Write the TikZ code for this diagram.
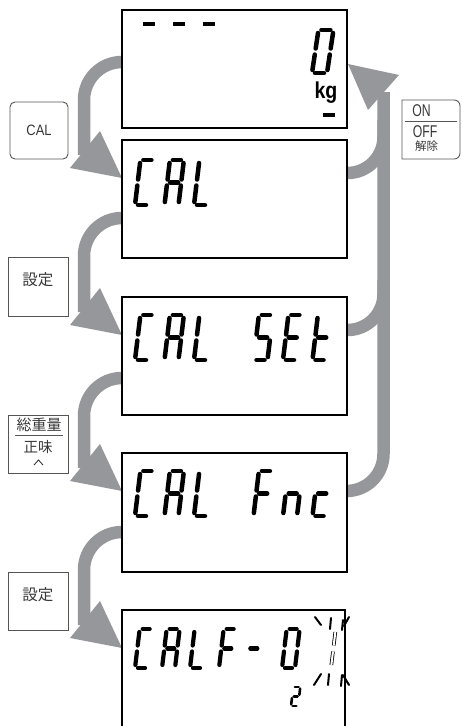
\documentclass[tikz,border=0pt]{standalone}
\usepackage{fontspec}
\setmainfont{Liberation Sans}
\newfontfamily\jp{Noto Sans CJK JP}
\usepackage{graphicx}
\definecolor{agray}{RGB}{150,151,154}
\definecolor{btnline}{RGB}{85,85,85}
\definecolor{btntext}{RGB}{55,55,55}
\def\SW{14}\def\SH{45}\def\SG{3}\def\SL{4.5}
\def\sega{\draw[segline] (\SG,\SH) -- ({\SW-\SG},\SH);}
\def\segb{\draw[segline] (\SW,{\SH-\SG}) -- (\SW,{\SH/2+\SG});}
\def\segc{\draw[segline] (\SW,{\SH/2-\SG}) -- (\SW,\SG);}
\def\segd{\draw[segline] (\SG,0) -- ({\SW-\SG},0);}
\def\sege{\draw[segline] (0,\SG) -- (0,{\SH/2-\SG});}
\def\segf{\draw[segline] (0,{\SH/2+\SG}) -- (0,{\SH-\SG});}
\def\segg{\draw[segline] (\SG,{\SH/2}) -- ({\SW-\SG},{\SH/2});}
\newcommand\dchar[4][0.12]{%
  \begin{scope}[shift={(#2,#3)}, yscale=-1, xslant=-#1]
    \foreach \s in {#4}{\csname seg\s\endcsname}
  \end{scope}}
\tikzset{
  band/.style={draw=agray, line width=12.5pt},
  headfill/.style={fill=agray},
  disp/.style={draw=black, line width=1.6pt},
  btnbox/.style={draw=btnline, line width=0.9pt},
  segline/.style={line width=\SL pt, line cap=round, black},
  btxt/.style={inner sep=0pt, text=btntext},
}
\begin{document}
\begin{tikzpicture}[x=1pt,y=-1pt]
\useasboundingbox (0,0) rectangle (461,726);
% ---------- left arrows ----------
\foreach \yb/\yt in {62/140, 218/297, 378/453, 532/610}{
  \draw[band, rounded corners=38pt] (122,\yb) -- (84,\yb) -- (84,\yt+15);
  \fill[headfill] (122,\yt+38) -- (70,\yt+28) -- (100,\yt-9) -- cycle;
}
% ---------- right return arrow ----------
\draw[band, rounded corners=37pt] (383.5,92) -- (383.5,491) -- (347,491);
\draw[band, rounded corners=36pt] (347,173) -- (383.5,173) -- (383.5,120);
\draw[band, rounded corners=36pt] (347,330) -- (383.5,330) -- (383.5,280);
\fill[headfill] (348,64) -- (399,75) -- (368,110) -- cycle;
% ---------- displays ----------
\draw[disp] (122,10) rectangle (347,128);
\draw[disp] (122,140) rectangle (347,258);
\draw[disp] (122,297) rectangle (347,415);
\draw[disp] (122,453) rectangle (347,572);
\draw[disp] (122,740) -- (122,610) -- (345,610) -- (345,740);
% display 1 content
\fill (143,22) rectangle (155,26);
\fill (173,22) rectangle (185,26);
\fill (203,22) rectangle (215,26);
\def\SW{15}\def\SH{43}
\dchar[0.15]{312}{73}{a,b,c,d,e,f}
\node[inner sep=0pt] (kg) at (326,93) {\bfseries\fontsize{23}{23}\selectfont\scalebox{0.85}[1]{kg}};
\fill (323,113) rectangle (335,117);
% display 2-4 content
\def\SW{14}\def\SH{45}
\dchar{135}{205}{a,d,e,f}
\dchar{164.5}{205}{a,b,c,e,f,g}
\dchar{194}{205}{d,e,f}
\dchar{135}{360}{a,d,e,f}
\dchar{164.5}{360}{a,b,c,e,f,g}
\dchar{194}{360}{d,e,f}
\dchar{253.5}{360}{a,f,g,c,d}
\dchar{283}{360}{a,d,e,f,g}
\dchar{312.5}{360}{d,e,f,g}
\dchar{135}{516}{a,d,e,f}
\dchar{164.5}{516}{a,b,c,e,f,g}
\dchar{194}{516}{d,e,f}
\dchar{253.5}{516}{a,e,f,g}
\dchar{283}{516}{c,e,g}
\dchar{312.5}{516}{d,e,g}
% display 5 content
\def\SW{13}\def\SH{39}\def\SL{4.2}
\dchar{135}{668}{a,d,e,f}
\dchar{162}{668}{a,b,c,e,f,g}
\dchar{190}{668}{d,e,f}
\dchar{219}{668}{a,e,f,g}
\dchar{245}{668}{g}
\dchar{282}{668}{a,b,c,d,e,f}
\begin{scope}[shift={(318,668)}, yscale=-1, xslant=-0.12]
  \draw[line width=0.8pt, double=white, double distance=2pt] (13,36) -- (13,22.5);
  \draw[line width=0.8pt, double=white, double distance=2pt] (13,16.5) -- (13,3);
\end{scope}
\def\SW{7}\def\SH{19}\def\SL{2.6}\def\SG{1.6}
\dchar{291}{706}{a,b,g,e,d}
\begin{scope}[line width=2pt, line cap=round]
  \draw (315,617) -- (321,625);
  \draw (331,618) -- (330,629);
  \draw (343,620) -- (342,630);
  \draw (344,626) -- (349,617);
  \draw (314,685) -- (321,674);
  \draw (329,674) -- (328,685);
  \draw (342,675) -- (341,686);
  \draw (343,675) -- (349,685);
\end{scope}
% ---------- buttons ----------
\draw[btnbox, rounded corners=5pt] (10,102) rectangle (68,159);
\node[btxt] (cal) at (39,130) {\fontsize{15}{15}\selectfont\scalebox{0.86}[1]{CAL}};
\draw[btnbox] (8,257) rectangle (68,316);
\node[btxt] (set1) at (38,280) {\jp\fontsize{15.5}{15.5}\selectfont 設定};
\draw[btnbox] (8,415) rectangle (68,473);
\node[btxt] (gross) at (39,425) {\jp\fontsize{15}{15}\selectfont 総重量};
\draw[btnline, line width=0.9pt] (15,435) -- (63,435);
\node[btxt] (net) at (38,447) {\jp\fontsize{14.5}{14.5}\selectfont 正味};
\draw[btntext, line width=0.9pt] (34,465) -- (38.5,460) -- (43,465);
\draw[btnbox] (8,572) rectangle (68,630);
\node[btxt] (set2) at (38,595) {\jp\fontsize{15.5}{15.5}\selectfont 設定};
\draw[btnbox] (402,100) -- (454,100) .. controls (457.5,100) and (460,102.5) .. (460,106)
  -- (460,153) .. controls (460,156.5) and (457.5,159) .. (454,159) -- (402,159) -- cycle;
\node[btxt] (on) at (421.5,111) {\fontsize{17}{17}\selectfont\scalebox{0.72}[1]{ON}};
\draw[btnline, line width=0.9pt] (405,121) -- (457,121);
\node[btxt] (off) at (425,131.5) {\fontsize{17}{17}\selectfont\scalebox{0.72}[1]{OFF}};
\node[btxt] (rel) at (426.5,146) {\jp\fontsize{11.5}{11.5}\selectfont 解除};
\end{tikzpicture}
\end{document}
